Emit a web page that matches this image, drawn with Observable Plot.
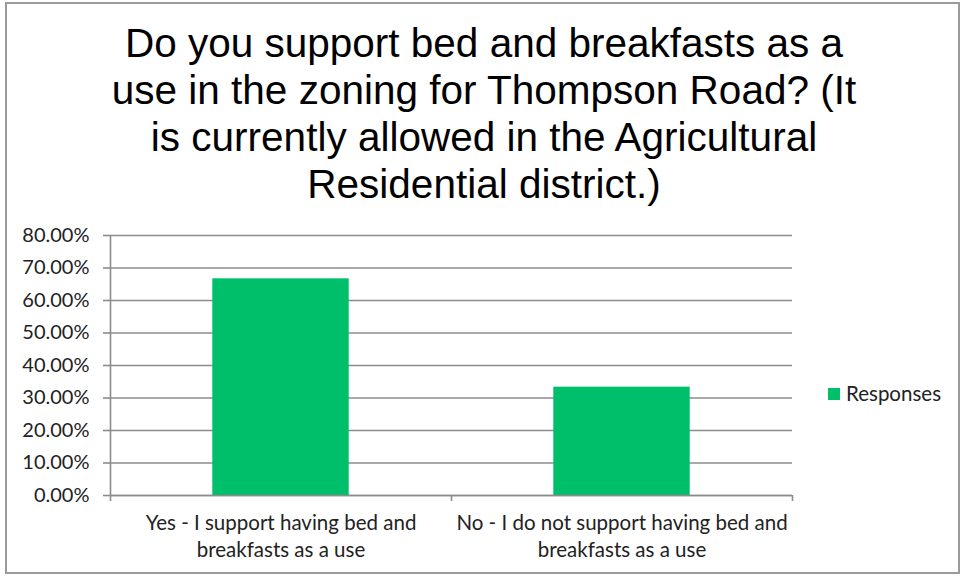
<!DOCTYPE html>
<html>
<head>
<meta charset="utf-8">
<script src="https://cdn.jsdelivr.net/npm/d3@7"></script>
<script src="https://cdn.jsdelivr.net/npm/@observablehq/plot@0.6"></script>
<style>
  html, body { margin: 0; padding: 0; background: #fff; }
  #wrap { position: relative; width: 964px; height: 577px; overflow: hidden; background: #fff; }
  #frame { position: absolute; left: 5px; top: 2px; width: 955px; height: 572px; border: 2px solid #9a9a9a; box-sizing: border-box; }
  #title { position: absolute; left: 0; top: 20px; width: 968px; text-align: center;
           font-family: "Liberation Sans", Arial, sans-serif; font-size: 40.5px; line-height: 47px; color: #000; }
  #chart { position: absolute; left: 0; top: 215px; }
  #legend { position: absolute; left: 828px; top: 382px; font-family: Lato, sans-serif; font-size: 20.5px;
            line-height: 23px; color: #222; display: flex; align-items: center; white-space: nowrap; }
  #legend .sw { width: 12px; height: 12px; margin-right: 6px; display: inline-block; }
</style>
</head>
<body>
<div id="wrap">
  <div id="frame"></div>
  <div id="title"></div>
  <div id="chart"></div>
  <div id="legend"></div>
</div>
<script>
// ---- data ----
const titleLines = [
  "Do you support bed and breakfasts as a",
  "use in the zoning for Thompson Road? (It",
  "is currently allowed in the Agricultural",
  "Residential district.)"
];
const categories = [
  "Yes - I support having bed and breakfasts as a use",
  "No - I do not support having bed and breakfasts as a use"
];
const categoryTickLabels = [
  "Yes - I support having bed and\nbreakfasts as a use",
  "No - I do not support having bed and\nbreakfasts as a use"
];
const responses = [0.6667, 0.3333];
const seriesName = "Responses";
const yTicks = [0, 0.1, 0.2, 0.3, 0.4, 0.5, 0.6, 0.7, 0.8];
const barColor = "#00bf6b";
const gridColor = "#8c8c8c";

// ---- build ----
document.getElementById("title").innerHTML = titleLines.join("<br>");

const data = categories.map((c, i) => ({category: c, idx: i, value: responses[i], label: categoryTickLabels[i]}));
const boundaries = [-0.5].concat(categories.map((c, i) => i + 0.5));
const half = 0.2; // bar half-width in category units (Excel gap width 150%)

const chart = Plot.plot({
  width: 964,
  height: 362,
  marginLeft: 110,
  marginRight: 172,
  marginTop: 20,
  marginBottom: 82,
  style: {fontFamily: "Lato, sans-serif", fontSize: "20px", color: "#222", background: "transparent"},
  x: {type: "linear", domain: [-0.5, categories.length - 0.5], axis: null},
  y: {domain: [0, 0.8], axis: null},
  marks: [
    Plot.ruleY(yTicks, {stroke: gridColor, strokeWidth: 1.6}),
    Plot.rectY(data, {x1: d => d.idx - half, x2: d => d.idx + half, y1: 0, y2: "value", fill: barColor}),
    Plot.ruleX([-0.5], {y1: 0, y2: 0.8, stroke: gridColor, strokeWidth: 1.6}),
    Plot.ruleY([0], {stroke: gridColor, strokeWidth: 1.6}),
    Plot.axisY({ticks: yTicks, tickFormat: d3.format(".2%"), tickSize: 7, tickPadding: 14, label: null,
                stroke: gridColor, strokeWidth: 1.6, fill: "#222", fontSize: 20}),
    Plot.axisX({ticks: boundaries, tickFormat: () => "", tickSize: 6, label: null,
                stroke: gridColor, strokeWidth: 1.6}),
    Plot.text(data, {x: "idx", y: 0, text: "label", lineAnchor: "top", dy: 16, lineHeight: 1.3,
                     fontSize: 20.5, fill: "#222"})
  ]
});
document.getElementById("chart").appendChild(chart);

document.getElementById("legend").innerHTML =
  `<span class="sw" style="background:${barColor}"></span><span>${seriesName}</span>`;
</script>
</body>
</html>
